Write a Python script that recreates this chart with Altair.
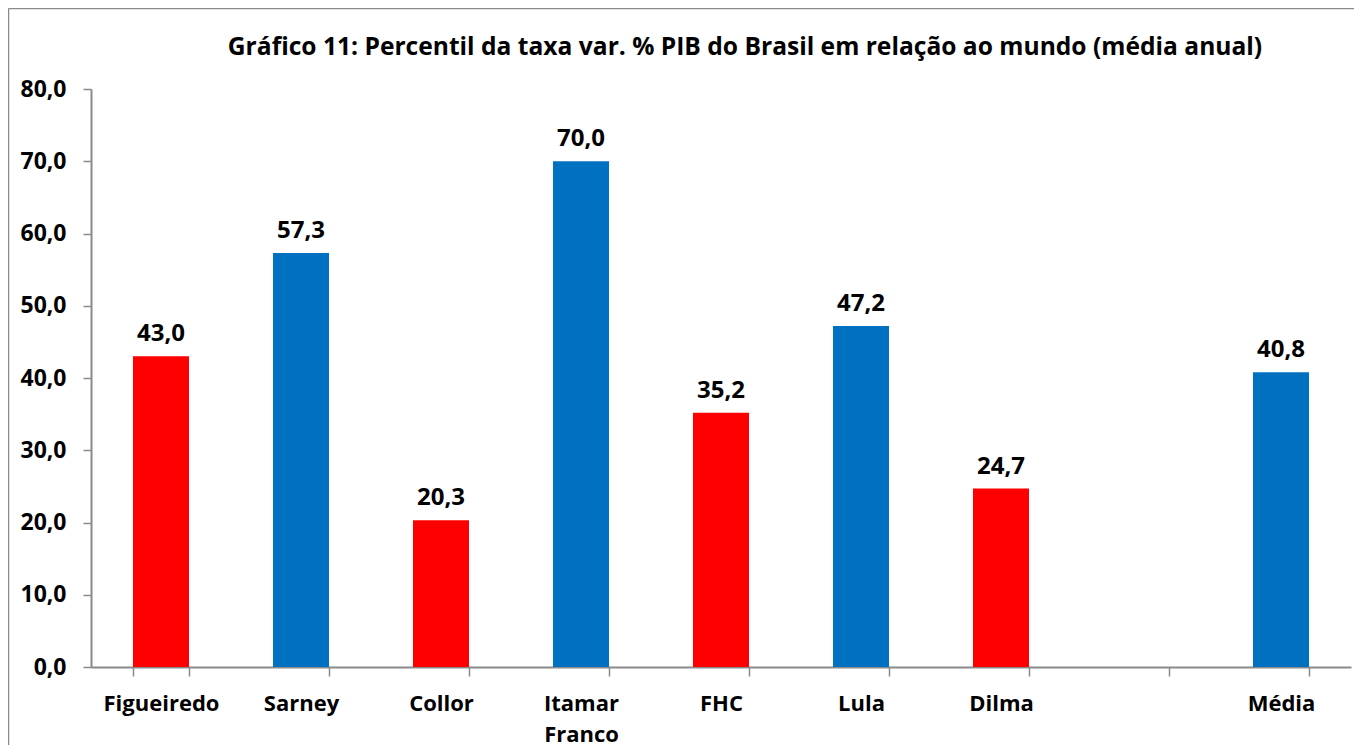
import altair as alt
import pandas as pd

categorias = ["Figueiredo", "Sarney", "Collor", "Itamar Franco", "FHC", "Lula", "Dilma", " ", "Média"]
valores = [43.0, 57.3, 20.3, 70.0, 35.2, 47.2, 24.7, None, 40.8]
grupos = ["vermelho", "azul", "vermelho", "azul", "vermelho", "azul", "vermelho", None, "azul"]
marcas_y = [0, 10, 20, 30, 40, 50, 60, 70, 80]
titulo = "Gráfico 11: Percentil da taxa var. % PIB do Brasil em relação ao mundo (média anual)"

W, H = 1260, 578
PL, PT, PR, PB = 83, 81, 3, 78
FONT = "Open Sans"
GRAY = "#8a8a8a"

df = pd.DataFrame({"categoria": categorias, "valor": valores, "grupo": grupos})

x_enc = alt.X(
    "categoria:N",
    sort=categorias,
    scale=alt.Scale(domain=categorias, paddingInner=0.6, paddingOuter=0.3),
    axis=alt.Axis(
        title=None,
        labelAngle=0,
        tickBand="extent",
        labelExpr="split(datum.label, ' ')",
        labelFontSize=22,
        labelLineHeight=31,
        labelPadding=17,
        tickSize=9,
        labelBaseline="top",
    ),
)
y_enc = alt.Y(
    "valor:Q",
    scale=alt.Scale(domain=[0, 80], nice=False),
    axis=alt.Axis(
        title=None,
        values=marcas_y,
        grid=False,
        labelExpr="replace(format(datum.value, '.1f'), '.', ',')",
        labelFontSize=23,
        labelPadding=17,
        tickSize=8,
    ),
)

bars = alt.Chart(df).mark_bar().encode(
    x=x_enc,
    y=y_enc,
    color=alt.Color(
        "grupo:N",
        scale=alt.Scale(domain=["vermelho", "azul"], range=["#FF0000", "#0070C0"]),
        legend=None,
    ),
)

labels = (
    alt.Chart(df)
    .transform_filter("isValid(datum.valor)")
    .transform_calculate(rotulo="replace(format(datum.valor, '.1f'), '.', ',')")
    .mark_text(font=FONT, fontWeight="bold", fontSize=24, color="black", baseline="alphabetic", dy=-15)
    .encode(x=alt.X("categoria:N", sort=categorias), y="valor:Q", text="rotulo:N")
)

um = pd.DataFrame({"k": [0]})
borda_esq = alt.Chart(um).mark_rule(color=GRAY, strokeWidth=1.5).encode(
    x=alt.value(-82.5), y=alt.value(-80.5), y2=alt.value(H + PB)
)
borda_topo = alt.Chart(um).mark_rule(color=GRAY, strokeWidth=1.5).encode(
    x=alt.value(-82.5), x2=alt.value(W + PR), y=alt.value(-80.5)
)
texto_titulo = alt.Chart(um).mark_text(
    text=titulo, font=FONT, fontSize=24.6, fontWeight="bold", color="black",
    align="center", baseline="alphabetic",
).encode(x=alt.value(W / 2 + 24), y=alt.value(-34))

chart = (
    alt.layer(bars, labels, borda_esq, borda_topo, texto_titulo)
    .properties(
        width=W,
        height=H,
        autosize=alt.AutoSizeParams(type="none"),
        padding={"left": PL, "top": PT, "right": PR, "bottom": PB},
    )
    .configure_view(stroke=None)
    .configure_axis(
        labelFont=FONT,
        labelFontWeight="bold",
        labelColor="black",
        domainColor=GRAY,
        domainWidth=2,
        tickColor=GRAY,
        tickWidth=1.5,
    )
)

chart.save("out.html", embed_options={"renderer": "svg", "actions": False})
